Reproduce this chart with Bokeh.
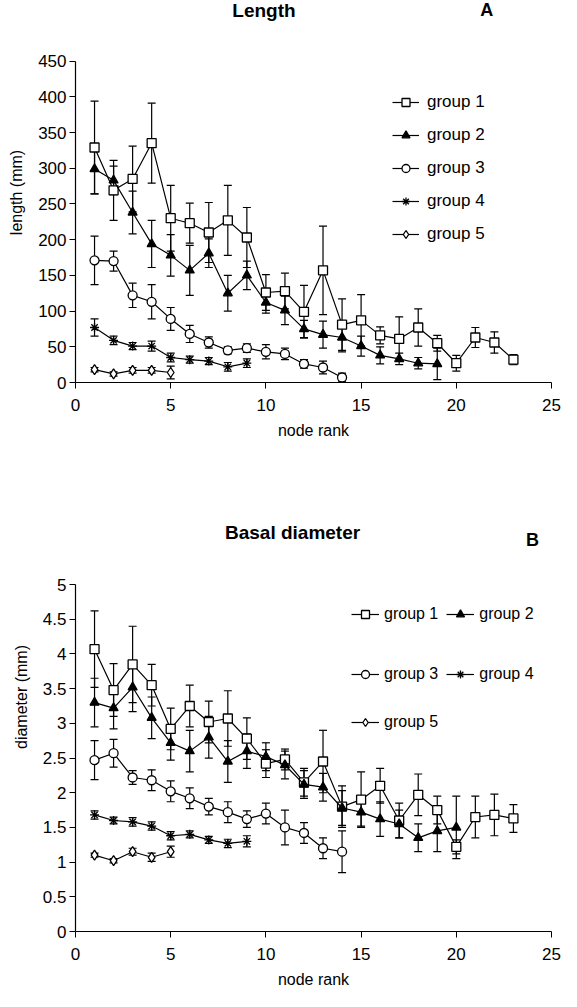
from bokeh.plotting import figure
from bokeh.models import ColumnDataSource, Whisker, TeeHead, Legend, LegendItem, Label, FixedTicker, NumeralTickFormatter
from bokeh.layouts import column
from bokeh.embed import file_html
from bokeh.resources import INLINE

FONT = "Liberation Sans"

# ---------------- data: chart A (length, mm) ----------------
len_rank_g1 = list(range(1, 24))
len_g1 = [329, 269, 285, 335, 230, 223, 210, 227, 203, 126, 128, 99, 157, 81, 87, 66, 61, 77, 55, 27, 63, 56, 32]
len_g1_err = [65, 42, 46, 56, 46, 28, 42, 49, 42, 25, 25, 37, 62, 36, 36, 12, 31, 26, 11, 11, 14, 15, 7]
len_rank_g2 = list(range(1, 20))
len_g2 = [299, 283, 238, 194, 178, 157, 181, 125, 150, 112, 101, 75, 67, 63, 51, 38, 33, 27, 26]
len_g2_err = [35, 20, 30, 33, 29, 35, 20, 25, 20, 15, 20, 12, 19, 20, 14, 12, 8, 8, 22]
len_rank_g3 = list(range(1, 15))
len_g3 = [171, 170, 122, 113, 89, 68, 56, 45, 48, 43, 40, 26, 21, 7]
len_g3_err = [34, 14, 17, 24, 16, 12, 8, 5, 6, 10, 8, 6, 9, 6]
len_rank_g4 = list(range(1, 10))
len_g4 = [77, 59, 51, 51, 35, 32, 30, 22, 27]
len_g4_err = [12, 6, 5, 7, 6, 5, 5, 6, 6]
len_rank_g5 = list(range(1, 6))
len_g5 = [18, 12, 17, 17, 14]
len_g5_err = [3, 3, 4, 4, 9]

# ---------------- data: chart B (basal diameter, mm) ----------------
dia_rank_g1 = list(range(1, 24))
dia_g1 = [4.07, 3.48, 3.85, 3.55, 2.92, 3.25, 3.02, 3.07, 2.78, 2.42, 2.48, 2.15, 2.45, 1.80, 1.90, 2.10, 1.60, 1.97, 1.75, 1.22, 1.65, 1.68, 1.63]
dia_g1_err = [0.55, 0.38, 0.55, 0.30, 0.30, 0.30, 0.30, 0.40, 0.30, 0.20, 0.15, 0.20, 0.45, 0.30, 0.40, 0.25, 0.25, 0.30, 0.20, 0.10, 0.30, 0.30, 0.20]
dia_rank_g2 = list(range(1, 21))
dia_g2 = [3.30, 3.22, 3.52, 3.08, 2.72, 2.60, 2.80, 2.45, 2.60, 2.52, 2.40, 2.12, 2.08, 1.78, 1.72, 1.62, 1.55, 1.35, 1.45, 1.50]
dia_g2_err = [0.35, 0.30, 0.35, 0.30, 0.25, 0.30, 0.30, 0.30, 0.25, 0.20, 0.20, 0.20, 0.20, 0.25, 0.20, 0.25, 0.20, 0.20, 0.30, 0.45]
dia_rank_g3 = list(range(1, 15))
dia_g3 = [2.47, 2.57, 2.22, 2.18, 2.02, 1.92, 1.80, 1.72, 1.62, 1.70, 1.50, 1.42, 1.20, 1.15]
dia_g3_err = [0.28, 0.20, 0.10, 0.15, 0.15, 0.15, 0.12, 0.15, 0.12, 0.15, 0.25, 0.15, 0.15, 0.30]
dia_rank_g4 = list(range(1, 10))
dia_g4 = [1.68, 1.60, 1.58, 1.52, 1.38, 1.40, 1.32, 1.27, 1.30]
dia_g4_err = [0.06, 0.05, 0.06, 0.06, 0.06, 0.05, 0.05, 0.06, 0.08]
dia_rank_g5 = list(range(1, 6))
dia_g5 = [1.10, 1.02, 1.15, 1.07, 1.15]
dia_g5_err = [0.03, 0.03, 0.05, 0.06, 0.08]

group_names = ["group 1", "group 2", "group 3", "group 4", "group 5"]
x_ticks = [0, 5, 10, 15, 20, 25]
len_y_ticks = [0, 50, 100, 150, 200, 250, 300, 350, 400, 450]
dia_y_ticks = [0, 0.5, 1, 1.5, 2, 2.5, 3, 3.5, 4, 4.5, 5]

MARKERS = [
    dict(marker="square", fill_color="white", size=9),
    dict(marker="triangle", fill_color="black", size=9),
    dict(marker="circle", fill_color="white", size=9),
    dict(marker="asterisk", fill_color="black", size=9),
    dict(marker="diamond", fill_color="white", size=10),
]


def style_axes(p, yticks, ylabel, ybounds, fmt=None):
    p.xgrid.visible = False
    p.ygrid.visible = False
    p.outline_line_color = None
    p.background_fill_color = "white"
    p.xaxis.ticker = FixedTicker(ticks=x_ticks)
    p.yaxis.ticker = FixedTicker(ticks=yticks)
    p.yaxis.bounds = ybounds
    if fmt is not None:
        p.yaxis.formatter = fmt
    for ax in (p.xaxis[0], p.yaxis[0]):
        ax.axis_line_color = "black"
        ax.axis_line_width = 1.2
        ax.major_tick_line_color = "black"
        ax.major_tick_in = 0
        ax.major_tick_out = 6
        ax.minor_tick_line_color = None
        ax.major_label_text_font = FONT
        ax.major_label_text_font_size = "17px"
        ax.major_label_text_color = "black"
        ax.axis_label_text_font = FONT
        ax.axis_label_text_font_style = "normal"
        ax.axis_label_text_color = "black"
    p.xaxis.axis_label = "node rank"
    p.xaxis.axis_label_text_font_size = "16px"
    p.yaxis.axis_label = ylabel
    p.yaxis.axis_label_text_font_size = "16px"
    p.xaxis.major_label_standoff = 10
    p.xaxis.axis_label_standoff = 8
    p.yaxis.major_label_standoff = 3
    p.yaxis.axis_label_standoff = 10


def draw_groups(p, series):
    items = []
    for i, (xs, ys, es) in enumerate(series):
        src = ColumnDataSource(dict(x=xs, y=ys,
                                    lo=[a - b for a, b in zip(ys, es)],
                                    hi=[a + b for a, b in zip(ys, es)]))
        w = Whisker(source=src, base="x", lower="lo", upper="hi", dimension="height",
                    line_color="black", line_width=1.2,
                    upper_head=TeeHead(size=8, line_color="black", line_width=1.2),
                    lower_head=TeeHead(size=8, line_color="black", line_width=1.2))
        w.level = "underlay"
        p.add_layout(w)
        ln = p.line("x", "y", source=src, line_color="black", line_width=1.2)
        m = MARKERS[i]
        sc = p.scatter("x", "y", source=src, marker=m["marker"], size=m["size"],
                       fill_color=m["fill_color"], line_color="black", line_width=1.3)
        items.append(LegendItem(label=group_names[i], renderers=[ln, sc]))
    return items


def legend_style(lg, gw):
    lg.border_line_color = None
    lg.background_fill_alpha = 0
    lg.padding = 0
    lg.margin = 0
    lg.label_text_font = FONT
    lg.label_text_font_size = "17px"
    lg.label_text_color = "black"
    lg.glyph_width = gw
    lg.glyph_height = 20
    lg.label_height = 20
    lg.label_standoff = 8


def title_label(p, x, y, text, size):
    p.add_layout(Label(x=x, y=y, text=text, text_font=FONT, text_font_size=size,
                       text_font_style="bold", text_color="black",
                       text_align="center", text_baseline="middle"))


# ---------------- chart A ----------------
pA = figure(width=561, height=452, x_range=(0, 25), y_range=(0, 532),
            output_backend="svg", toolbar_location=None,
            min_border_left=75, min_border_right=10, min_border_top=2, min_border_bottom=70)
style_axes(pA, len_y_ticks, "length (mm)", (0, 450))
itemsA = draw_groups(pA, [
    (len_rank_g1, len_g1, len_g1_err),
    (len_rank_g2, len_g2, len_g2_err),
    (len_rank_g3, len_g3, len_g3_err),
    (len_rank_g4, len_g4, len_g4_err),
    (len_rank_g5, len_g5, len_g5_err),
])
legA = Legend(items=itemsA, location=(317, 138), orientation="vertical")
legend_style(legA, 27)
legA.spacing = 13
pA.add_layout(legA, "center")
title_label(pA, 9.9, 521, "Length", "19px")
title_label(pA, 21.6, 521, "A", "18px")

# ---------------- chart B ----------------
pB = figure(width=561, height=539, x_range=(0, 25), y_range=(0, 6.76),
            output_backend="svg", toolbar_location=None,
            min_border_left=61, min_border_right=10, min_border_top=10, min_border_bottom=60)
style_axes(pB, dia_y_ticks, "diameter (mm)", (0, 5), NumeralTickFormatter(format="0.[0]"))
itemsB = draw_groups(pB, [
    (dia_rank_g1, dia_g1, dia_g1_err),
    (dia_rank_g2, dia_g2, dia_g2_err),
    (dia_rank_g3, dia_g3, dia_g3_err),
    (dia_rank_g4, dia_g4, dia_g4_err),
    (dia_rank_g5, dia_g5, dia_g5_err),
])
for its, loc in ((itemsB[0:2], (276, 307)), (itemsB[2:4], (276, 247)), (itemsB[4:5], (276, 199))):
    lg = Legend(items=its, location=loc, orientation="horizontal")
    legend_style(lg, 28)
    lg.label_standoff = 5
    lg.spacing = 8
    lg.label_text_font_size = "16px"
    pB.add_layout(lg, "center")
title_label(pB, 11.4, 5.75, "Basal diameter", "19px")
title_label(pB, 24.0, 5.65, "B", "18px")

layout = column(pA, pB)
open("out.html", "w").write(file_html(layout, INLINE))
